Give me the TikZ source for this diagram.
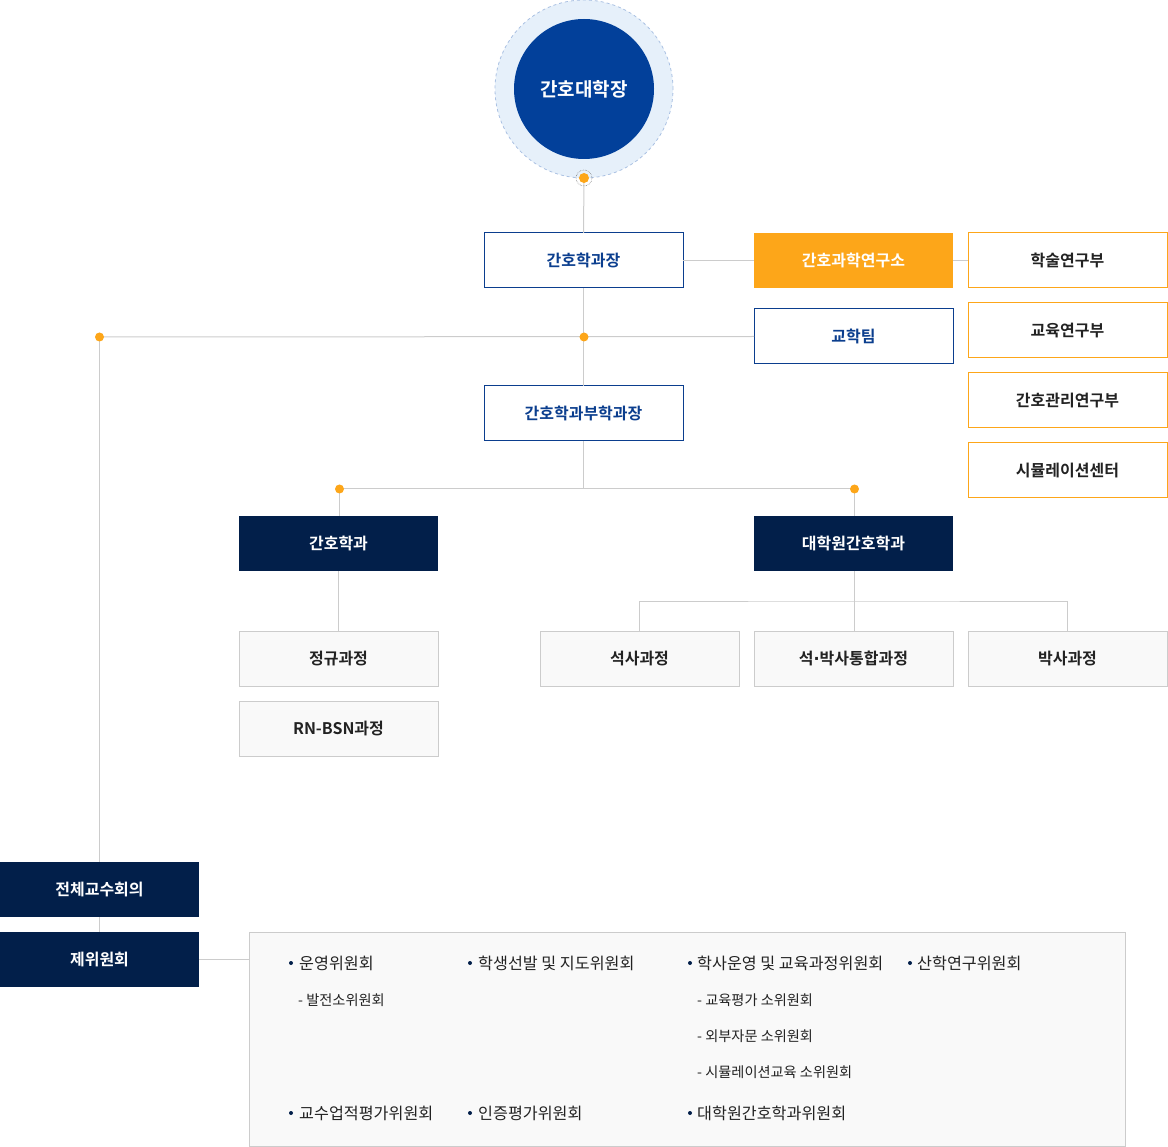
\documentclass[tikz,border=0pt]{standalone}
\usepackage{fontspec}
\setmainfont{Noto Sans CJK KR}[BoldFont={Noto Sans CJK KR Bold}]
\newfontfamily\latinfont{DejaVu Sans}
\definecolor{navy}{HTML}{021F4A}
\definecolor{deanblue}{HTML}{02409A}
\definecolor{ringfill}{HTML}{E6F0FA}
\definecolor{ringline}{HTML}{A9C0E2}
\definecolor{bord}{HTML}{0B3E8E}
\definecolor{orng}{HTML}{FDA619}
\definecolor{lgray}{HTML}{CCCCCC}
\definecolor{pale}{HTML}{F9F9F9}
\definecolor{txt}{HTML}{222222}
\tikzset{
  box/.style={rectangle,minimum width=199pt,minimum height=55pt,inner sep=0pt,outer sep=0pt,line width=1pt,font=\fontsize{16}{19}\selectfont\bfseries},
  bluebox/.style={box,draw=bord,fill=white,text=bord},
  orangebox/.style={box,fill=orng,text=white},
  orangeline/.style={box,draw=orng,fill=white,text=txt},
  navybox/.style={box,fill=navy,text=white},
  graybox/.style={box,draw=lgray,fill=pale,text=txt},
  conn/.style={draw=lgray,line width=1pt},
  dotmark/.style={fill=orng},
  item/.style={anchor=west,inner sep=0pt,text=txt,font=\fontsize{16.2}{19}\selectfont},
  subitem/.style={anchor=west,inner sep=0pt,text=txt,font=\fontsize{14.2}{17}\selectfont},
}
\begin{document}
\begin{tikzpicture}[x=1pt,y=-1pt]
\useasboundingbox (0,0) rectangle (1168,1147);
% dean
\node[circle,minimum size=178pt,fill=ringfill,draw=ringline,dashed,line width=0.8pt,inner sep=0pt] (ring) at (584,89) {};
\node[circle,minimum size=140pt,fill=deanblue,text=white,inner sep=0pt,font=\fontsize{19}{23}\selectfont\bfseries] (dean) at (584,89) {간호대학장};
% coordinates of junction dots
\coordinate (d1) at (584,178);
\coordinate (d2) at (584,337);
\coordinate (dl) at (99.5,337);
\coordinate (d3) at (339.5,489);
\coordinate (d4) at (854.5,489);
\coordinate (gj) at (854.5,601);
% boxes
\node[bluebox] (hgj) at (583.5,260.5) {간호학과장};
\node[orangebox] (inst) at (853.5,260.5) {간호과학연구소};
\node[orangeline] (r1) at (1067.5,260.5) {학술연구부};
\node[orangeline] (r2) at (1067.5,330.5) {교육연구부};
\node[orangeline] (r3) at (1067.5,400.5) {간호관리연구부};
\node[orangeline] (r4) at (1067.5,470.5) {시뮬레이션센터};
\node[bluebox] (team) at (853.5,336.5) {교학팀};
\node[bluebox] (bu) at (583.5,413.5) {간호학과부학과장};
\node[navybox] (dept) at (338.5,543.5) {간호학과};
\node[navybox] (grad) at (853.5,543.5) {대학원간호학과};
\node[graybox] (reg) at (338.5,658.5) {정규과정};
\node[graybox] (rn) at (338.5,728.5) {RN-BSN과정};
\node[graybox] (ms) at (639.5,658.5) {석사과정};
\node[graybox] (mp) at (853.5,658.5) {석{\latinfont\bfseries ·}박사통합과정};
\node[graybox] (phd) at (1067.5,658.5) {박사과정};
\node[navybox] (all) at (99.5,889.5) {전체교수회의};
\node[navybox] (com) at (99.5,959.5) {제위원회};
\node[rectangle,draw=lgray,fill=pale,line width=1pt,minimum width=876pt,minimum height=214pt,inner sep=0pt,outer sep=0pt] (list) at (687,1039) {};
% connectors
\draw[conn] (d1) -- (hgj.north);
\draw[conn] (hgj.south) -- (bu.north);
\draw[conn] (hgj.east) -- (inst.west);
\draw[conn] (inst.east) -- (r1.west);
\draw[conn] (dl) -- (team.west);
\draw[conn] (bu.south) -- (bu.south |- d3);
\draw[conn] (d3) -- (d4);
\draw[conn] (d3) -- (d3 |- dept.north);
\draw[conn] (d4) -- (d4 |- grad.north);
\draw[conn] (dept.south) -- (reg.north);
\draw[conn] (gj |- grad.south) -- (gj);
\draw[conn] (ms.north) |- (gj) -| (phd.north);
\draw[conn] (gj) -- (gj |- mp.north);
\draw[conn] (dl) -- (all.north);
\draw[conn] (all.south) -- (com.north);
\draw[conn] (com.east) -- (com.east -| list.west);
% dots
\draw[gray,densely dotted,line width=0.6pt] (d1) circle (8);
\fill[dotmark] (d1) circle (5);
\fill[dotmark] (d2) circle (4.5);
\fill[dotmark] (dl) circle (4.5);
\fill[dotmark] (d3) circle (4.5);
\fill[dotmark] (d4) circle (4.5);
% committee list
\foreach \bx/\by in {291/963,470/963,690/963,910/963,291/1113,470/1113,690/1113}
  \fill[navy] (\bx,\by) circle (2);
\node[item] (c1) at (299,963) {운영위원회};
\node[item] (c2) at (478,963) {학생선발 및 지도위원회};
\node[item] (c3) at (697,963) {학사운영 및 교육과정위원회};
\node[item] (c4) at (917,963) {산학연구위원회};
\node[subitem] (s1) at (298,1000) {- 발전소위원회};
\node[subitem] (s2) at (697,1000) {- 교육평가 소위원회};
\node[subitem] (s3) at (697,1036) {- 외부자문 소위원회};
\node[subitem] (s4) at (697,1072) {- 시뮬레이션교육 소위원회};
\node[item] (c5) at (299,1113) {교수업적평가위원회};
\node[item] (c6) at (478,1113) {인증평가위원회};
\node[item] (c7) at (697,1113) {대학원간호학과위원회};
\end{tikzpicture}
\end{document}
